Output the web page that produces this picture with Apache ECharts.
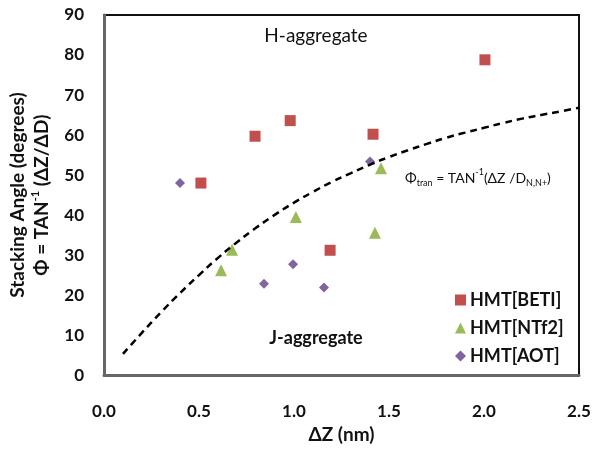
<!DOCTYPE html>
<html><head><meta charset="utf-8">
<script src="https://cdn.jsdelivr.net/npm/echarts@6/dist/echarts.min.js"></script>
<style>html,body{margin:0;padding:0;background:#fff}#c{width:600px;height:449px}</style>
</head><body><div id="c"></div>
<script>
var xTicks = [0.0, 0.5, 1.0, 1.5, 2.0, 2.5];
var yTicks = [0, 10, 20, 30, 40, 50, 60, 70, 80, 90];
var betiX = [0.51, 0.795, 0.98, 1.416, 1.19, 2.005];
var betiY = [48.0, 59.7, 63.6, 60.2, 31.2, 78.8];
var ntf2X = [0.616, 0.674, 1.01, 1.458, 1.426];
var ntf2Y = [26.2, 31.3, 39.5, 51.7, 35.6];
var aotX = [0.40, 0.842, 0.995, 1.158, 1.40];
var aotY = [48.0, 22.8, 27.7, 21.9, 53.4];
var curveX = [0.1,0.2,0.3,0.4,0.5,0.6,0.7,0.8,0.9,1.0,1.1,1.2,1.3,1.4,1.5,1.6,1.7,1.8,1.9,2.0,2.1,2.2,2.3,2.4,2.5];
var curveY = [5.3,10.6,15.7,20.5,25.0,29.3,33.2,36.8,40.1,43.1,45.8,48.3,50.5,52.6,54.5,56.2,57.8,59.3,60.6,61.8,63.0,64.1,65.0,65.9,66.8];

function zip(a, b) { return a.map(function (v, i) { return [v, b[i]]; }); }
var FONT = 'Lato';
var chart = echarts.init(document.getElementById('c'));
chart.setOption({
  animation: false,
  textStyle: { fontFamily: FONT },
  grid: { left: 104, top: 15, right: 21, bottom: 72, show: true, borderColor: '#111', borderWidth: 2, containLabel: false },
  xAxis: {
    type: 'value', min: 0, max: 2.5, interval: 0.5,
    axisLine: { show: true, lineStyle: { color: '#666', width: 3 } },
    axisTick: { show: false }, splitLine: { show: false },
    axisLabel: { margin: 28, fontSize: 17, fontWeight: 'bold', color: '#111', fontFamily: FONT,
      formatter: function (v) { return v.toFixed(1); } },
    name: 'ΔZ (nm)', nameLocation: 'middle', nameGap: 44,
    nameTextStyle: { fontSize: 19, fontWeight: 'bold', color: '#111', fontFamily: FONT }
  },
  yAxis: {
    type: 'value', min: 0, max: 90, interval: 10,
    axisLine: { show: true, lineStyle: { color: '#666', width: 3 } },
    axisTick: { show: false }, splitLine: { show: false },
    axisLabel: { margin: 20, fontSize: 17, fontWeight: 'bold', color: '#111', fontFamily: FONT },
    name: '{a|Stacking Angle (degrees)}\n{a|Φ = TAN}{s|-1}{a| (ΔZ/ΔD)}',
    nameLocation: 'middle', nameGap: 50, nameRotate: 90,
    nameTextStyle: {
      fontFamily: FONT,
      rich: {
        a: { fontSize: 19, fontWeight: 'bold', color: '#111', fontFamily: FONT, lineHeight: 24 },
        s: { fontSize: 11, fontWeight: 'bold', color: '#111', fontFamily: FONT, verticalAlign: 'top', lineHeight: 24 }
      }
    }
  },
  legend: {
    orient: 'vertical', left: 450, top: 286, itemGap: 10, itemWidth: 11, itemHeight: 11,
    textStyle: { fontSize: 18, fontWeight: 'bold', color: '#111', fontFamily: FONT, padding: [0, 0, 0, -1] },
    data: [
      { name: 'HMT[BETI]', icon: 'rect' },
      { name: 'HMT[NTf2]', icon: 'triangle' },
      { name: 'HMT[AOT]', icon: 'diamond' }
    ]
  },
  series: [
    { name: 'curve', type: 'line', data: zip(curveX, curveY), showSymbol: false, smooth: true,
      lineStyle: { color: '#000', width: 2.5, type: [7, 5] }, silent: true },
    { name: 'HMT[BETI]', type: 'scatter', symbol: 'rect', symbolSize: 11, data: zip(betiX, betiY),
      itemStyle: { color: '#C0504D', opacity: 1 } },
    { name: 'HMT[NTf2]', type: 'scatter', symbol: 'triangle', symbolSize: 12, data: zip(ntf2X, ntf2Y),
      itemStyle: { color: '#9BBB59', opacity: 1 } },
    { name: 'HMT[AOT]', type: 'scatter', symbol: 'diamond', symbolSize: 10, data: zip(aotX, aotY),
      itemStyle: { color: '#8064A2', opacity: 1 } }
  ],
  graphic: [
    { type: 'text', style: { text: 'H-aggregate', x: 316, y: 36, align: 'center', verticalAlign: 'middle',
        fontSize: 19, fontWeight: 'normal', fill: '#111', fontFamily: FONT } },
    { type: 'text', style: { text: 'J-aggregate', x: 316, y: 338, align: 'center', verticalAlign: 'middle',
        fontSize: 18, fontWeight: 'bold', fill: '#111', fontFamily: FONT } },
    { type: 'text', style: {
        text: '{a|Φ}{b|tran}{a| = TAN}{c|-1}{a|(ΔZ /D}{b|N,N+}{a|)}', x: 405, y: 178, align: 'left', verticalAlign: 'middle',
        fill: '#111', fontFamily: FONT,
        rich: {
          a: { fontSize: 14, fill: '#111', fontFamily: FONT, lineHeight: 20 },
          b: { fontSize: 9, fill: '#111', fontFamily: FONT, lineHeight: 20, verticalAlign: 'bottom' },
          c: { fontSize: 9, fill: '#111', fontFamily: FONT, lineHeight: 20, verticalAlign: 'top' }
        } } }
  ]
});
</script></body></html>
